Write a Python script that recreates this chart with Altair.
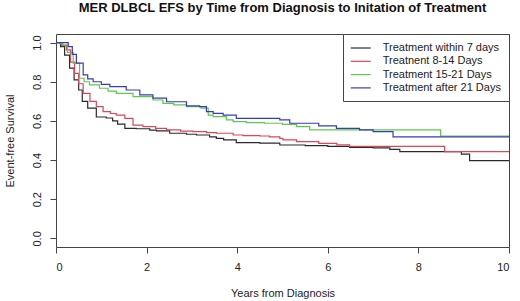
import altair as alt
import pandas as pd

series_names = ["Treatment within 7 days", "Treatnent 8-14 Days",
                "Treatment 15-21 Days", "Treatment after 21 Days"]
series_colors = ["#2a2a2a", "#d9475a", "#5cc94a", "#3a3ab8"]

t_black = [0, 0.1, 0.19, 0.3, 0.4, 0.5, 0.58, 0.7, 0.89, 1.11, 1.25, 1.36, 1.52, 1.77,
           2.07, 2.22, 2.51, 2.88, 3.1, 3.39, 3.54, 3.7, 3.98, 4.5, 4.94, 5.5, 6.0, 6.48,
           7.0, 7.37, 7.59, 8.95, 9.13, 10]
v_black = [1.0, 0.98, 0.936, 0.87, 0.81, 0.758, 0.70, 0.665, 0.62, 0.615, 0.60, 0.584, 0.562, 0.56,
           0.553, 0.549, 0.537, 0.532, 0.528, 0.519, 0.511, 0.503, 0.489, 0.487, 0.477, 0.474, 0.47, 0.465,
           0.462, 0.455, 0.443, 0.43, 0.397, 0.397]

t_red = [0, 0.12, 0.23, 0.32, 0.41, 0.5, 0.6, 0.75, 0.89, 1.04, 1.2, 1.33, 1.52, 1.7, 1.92,
         2.2, 2.44, 2.75, 3.02, 3.32, 3.54, 3.91, 4.13, 4.5, 4.71, 4.94, 5.01, 5.31, 5.8, 6.2,
         6.48, 8.58, 10]
v_red = [1.0, 0.985, 0.963, 0.9, 0.843, 0.79, 0.741, 0.70, 0.673, 0.647, 0.638, 0.63, 0.613, 0.579, 0.571,
         0.562, 0.554, 0.548, 0.545, 0.54, 0.537, 0.528, 0.525, 0.523, 0.519, 0.511, 0.503, 0.494, 0.485, 0.478,
         0.47, 0.443, 0.443]

t_green = [0, 0.08, 0.15, 0.25, 0.38, 0.52, 0.62, 0.74, 0.96, 1.15, 1.33, 1.7, 2.14, 2.36, 2.6,
           2.88, 3.2, 3.36, 3.47, 3.76, 3.91, 4.2, 4.6, 5.0, 5.31, 5.6, 8.49, 10]
v_green = [1.0, 0.995, 0.988, 0.95, 0.895, 0.818, 0.80, 0.784, 0.767, 0.752, 0.741, 0.724, 0.707, 0.69, 0.682,
           0.673, 0.665, 0.63, 0.622, 0.605, 0.596, 0.591, 0.588, 0.582, 0.571, 0.554, 0.523, 0.523]

t_blue = [0, 0.12, 0.27, 0.36, 0.45, 0.6, 0.7, 0.82, 1.0, 1.19, 1.55, 1.85, 2.14, 2.44, 2.88,
          3.17, 3.32, 3.47, 3.69, 3.98, 4.94, 5.16, 5.8, 6.19, 6.7, 7.0, 7.44, 10]
v_blue = [1.0, 1.0, 0.98, 0.94, 0.895, 0.835, 0.815, 0.80, 0.787, 0.775, 0.758, 0.733, 0.716, 0.698, 0.677,
          0.673, 0.647, 0.639, 0.63, 0.613, 0.605, 0.588, 0.575, 0.562, 0.554, 0.545, 0.519, 0.519]

x_ticks = [0, 2, 4, 6, 8, 10]
y_ticks = [0.0, 0.2, 0.4, 0.6, 0.8, 1.0]

rows = []
for name, ts, vs in zip(series_names, [t_black, t_red, t_green, t_blue],
                        [v_black, v_red, v_green, v_blue]):
    for t, v in zip(ts, vs):
        rows.append({"group": name, "t": t, "v": v})
df = pd.DataFrame(rows)

FONT = "Liberation Sans"

chart = alt.Chart(df).mark_line(interpolate="step-after", strokeWidth=1.2).encode(
    x=alt.X("t:Q", scale=alt.Scale(domain=[0, 10], nice=False, zero=False),
            axis=alt.Axis(values=x_ticks, title="Years from Diagnosis", format="d",
                          labelPadding=8, titleY=46, titleBaseline="middle")),
    y=alt.Y("v:Q", scale=alt.Scale(domain=[-0.044, 1.044], nice=False, zero=False),
            axis=alt.Axis(values=y_ticks, format=".1f", title="Event-free Survival",
                          labelAngle=-90, labelAlign="center", labelBaseline="bottom",
                          labelPadding=8, titleX=-46, titleY=106.5,
                          titleBaseline="middle", titleAngle=-90)),
    color=alt.Color("group:N", sort=series_names,
                    scale=alt.Scale(domain=series_names, range=series_colors),
                    legend=alt.Legend(title=None, orient="top-right", offset=0,
                                      symbolType="M-2,0H2", symbolSize=100,
                                      symbolOffset=3.7, symbolStrokeWidth=1.2,
                                      labelFont=FONT, labelFontSize=11, labelColor="#222",
                                      labelOffset=16, padding=8, rowPadding=2.3,
                                      strokeColor="#444", fillColor="white")),
    detail="group:N",
).properties(
    width=453, height=213,
    background="white",
    title=alt.Title("MER DLBCL EFS by Time from Diagnosis to Initation of Treatment",
                    font=FONT, fontSize=13, fontWeight="bold", color="#111",
                    anchor="middle", offset=19),
    padding={"left": 56, "top": 34, "right": 11, "bottom": 54},
    autosize=alt.AutoSizeParams(type="none"),
).configure_view(
    stroke="#444", strokeWidth=1
).configure_axis(
    domain=False, grid=False, tickColor="#444", tickSize=6, tickWidth=1,
    labelFont=FONT, labelFontSize=11, labelColor="#222",
    titleFont=FONT, titleFontSize=11, titleColor="#222", titleFontWeight="normal"
)

chart.save("out.html", embed_options={"renderer": "svg", "actions": False})
